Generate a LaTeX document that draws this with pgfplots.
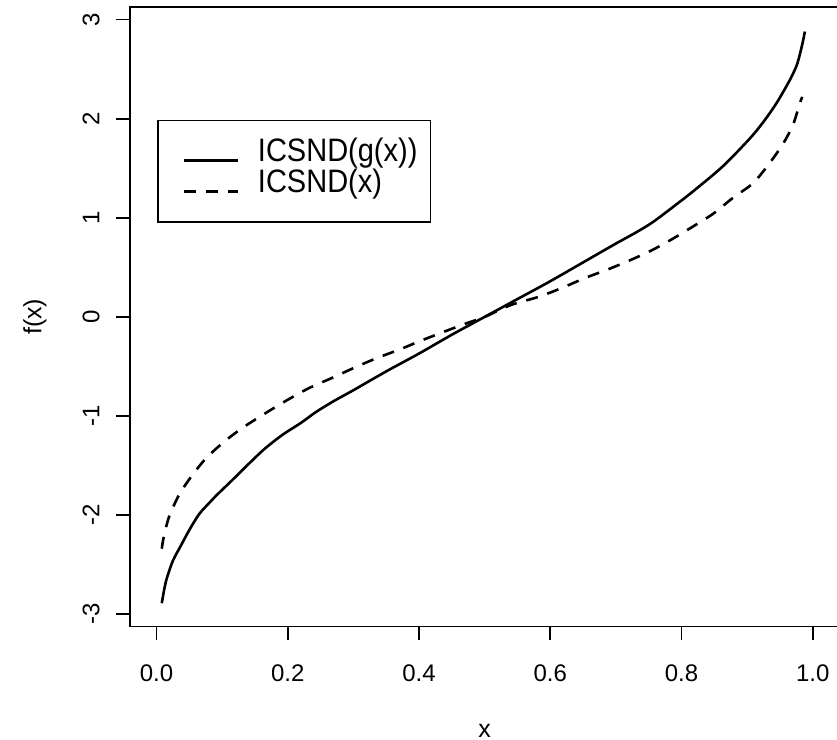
\documentclass[border=0pt]{standalone}
\usepackage{fontspec}
\setmainfont{Liberation Sans}
\usepackage{graphicx}
\usepackage{pgfplots}
\pgfplotsset{compat=1.18}

\begin{document}
\begin{tikzpicture}
\useasboundingbox (0,0) rectangle (418.5pt,370pt);
\begin{axis}[
  at={(65.15pt,56.75pt)}, anchor=south west,
  scale only axis, width=354.35pt, height=309.6pt,
  xmin=-0.04, xmax=1.04, ymin=-3.125, ymax=3.125,
  axis line style={line width=0.8pt},
  xtick={0,0.2,0.4,0.6,0.8,1},
  xticklabels={0.0,0.2,0.4,0.6,0.8,1.0},
  ytick={-3,-2,-1,0,1,2,3},
  yticklabels={-3,-2,-1,0,1,2,3},
  tick align=outside, major tick length=7pt,
  xtick pos=left, ytick pos=left,
  tick style={line width=0.8pt, black},
  ticklabel style={font=\fontsize{12}{12}\selectfont},
  xticklabel style={anchor=center, yshift=-16.5pt},
  yticklabel style={xshift=-12.65pt, rotate=90, anchor=center},
  every axis x label/.style={at={(axis description cs:0.5,0)}, yshift=-52.25pt, anchor=center},
  every axis y label/.style={at={(axis description cs:0,0.5)}, xshift=-47.65pt, rotate=90, anchor=center},
  label style={font=\fontsize{12.5}{12.5}\selectfont},
  xlabel={x}, ylabel={f(x)},
  legend image code/.code={\path (0pt,0pt); \draw[#1] (6pt,-2.4pt) -- (32.7pt,-2.4pt);},
  legend cell align=left,
  legend style={at={(0.0381,0.818)}, anchor=north west, draw=black, line width=0.7pt,
    inner xsep=6.5pt, inner ysep=11pt, column sep=9.5pt, row sep=2.6pt,
    font=\fontsize{14.5}{14.5}\selectfont,
    nodes={inner sep=0pt, text height=9.5pt, text depth=3.5pt}},
]
\addplot[black, line width=1.3pt, smooth] table {
0.008 -2.89
0.012 -2.74
0.016 -2.63
0.025 -2.46
0.037 -2.31
0.050 -2.15
0.065 -1.99
0.080 -1.88
0.093 -1.79
0.115 -1.65
0.141 -1.48
0.165 -1.33
0.192 -1.19
0.220 -1.07
0.243 -0.96
0.270 -0.85
0.300 -0.74
0.350 -0.55
0.400 -0.37
0.450 -0.18
0.500 0.00
0.550 0.18
0.600 0.36
0.650 0.55
0.700 0.74
0.730 0.85
0.757 0.96
0.797 1.16
0.820 1.28
0.863 1.52
0.904 1.80
0.925 1.97
0.945 2.16
0.965 2.39
0.975 2.53
0.980 2.64
0.985 2.78
0.988 2.88
};
\addlegendentry{\scalebox{1}[1.12]{ICSND(g(x))}}
\addplot[black, line width=1.3pt, smooth, dash pattern=on 6pt off 5pt] table {
0.008 -2.34
0.011 -2.22
0.019 -2.02
0.034 -1.80
0.052 -1.62
0.075 -1.43
0.103 -1.26
0.131 -1.12
0.164 -0.98
0.199 -0.84
0.232 -0.72
0.266 -0.62
0.299 -0.52
0.334 -0.42
0.370 -0.33
0.403 -0.24
0.438 -0.15
0.470 -0.07
0.500 0.00
0.540 0.12
0.581 0.20
0.617 0.29
0.652 0.39
0.688 0.48
0.721 0.57
0.754 0.67
0.787 0.79
0.812 0.89
0.848 1.04
0.878 1.20
0.909 1.35
0.934 1.55
0.955 1.75
0.970 1.94
0.980 2.15
0.984 2.22
};
\addlegendentry{\scalebox{1}[1.12]{ICSND(x)}}
\end{axis}
\end{tikzpicture}
\end{document}
